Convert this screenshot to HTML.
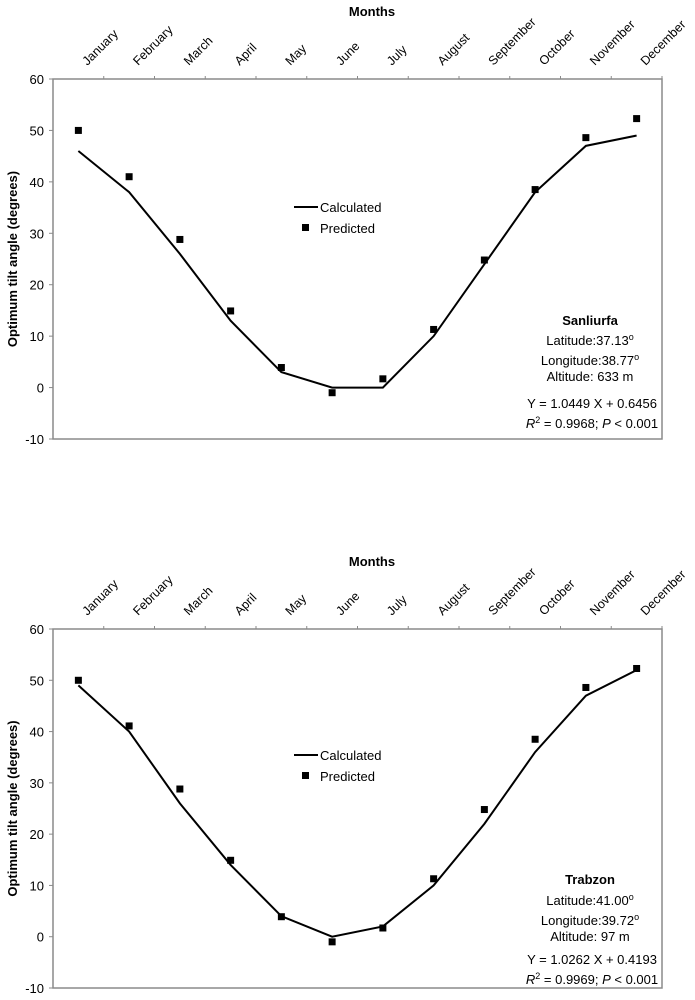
<!DOCTYPE html>
<html><head><meta charset="utf-8"><style>
html,body{margin:0;padding:0;background:#fff;}
svg{display:block;font-family:"Liberation Sans",Arial,sans-serif;}
</style></head><body>
<svg id="c" width="695" height="1000" viewBox="0 0 695 1000"></svg>
<script>
const months=["January","February","March","April","May","June","July","August","September","October","November","December"];
const yTicks=[60,50,40,30,20,10,0,-10];
const calcA=[46,38,26,13,3,0,0,10,24,38,47,49];
const predA=[50,41,28.8,14.9,3.9,-1,1.7,11.3,24.8,38.5,48.6,52.3];
const calcB=[49,40,26,14,4,0,2,10,22,36,47,52];
const predB=[50,41.1,28.8,14.9,3.9,-1,1.7,11.3,24.8,38.5,48.6,52.3];
const infoA=["Sanliurfa","Latitude:37.13","Longitude:38.77","Altitude: 633 m","Y = 1.0449 X + 0.6456","0.9968"];
const infoB=["Trabzon","Latitude:41.00","Longitude:39.72","Altitude: 97 m","Y = 1.0262 X + 0.4193","0.9969"];
const NS="http://www.w3.org/2000/svg";
const svg=document.getElementById('c');
function mk(tag,attrs,parent,text){const e=document.createElementNS(NS,tag);for(const k in attrs)e.setAttribute(k,attrs[k]);if(text!==undefined)e.textContent=text;(parent||svg).appendChild(e);return e;}
function panel(id,top,bottom,calc,pred,info,legY,infoYs){
  const g=mk('g',{});
  
  
  const L=53,R=662;
  const cw=(R-L)/months.length;
  const y=v=>top+(60-v)/70*(bottom-top);
  const x=i=>L+cw*(i+0.5);
  const t=mk('text',{x:372,y:top-63,'font-size':13,'font-weight':'bold','text-anchor':'middle'},g,'Months');
  
  
  const yt=mk('text',{x:0,y:0,'font-size':13,'font-weight':'bold','text-anchor':'middle',transform:`translate(17,${(top+bottom)/2}) rotate(-90)`},g,'Optimum tilt angle (degrees)');
  
  
  const box=mk('rect',{x:L,y:top,width:R-L,height:bottom-top,fill:'none',stroke:'#8a8a8a','stroke-width':1.5},g);
  
  
  yTicks.forEach(v=>{
    mk('line',{x1:L-4,x2:L,y1:y(v),y2:y(v),stroke:'#8a8a8a'},g);
    const tl=mk('text',{x:L-9,y:y(v)+5,'font-size':13,'text-anchor':'end'},g,String(v));
    
    
  });
  months.forEach((m,i)=>{
    mk('line',{x1:L+cw*(i+1),x2:L+cw*(i+1),y1:top-3,y2:top,stroke:'#8a8a8a'},g);
    const lx=x(i)+9,ly=top-13;
    const ml=mk('text',{x:lx,y:ly,'font-size':12.5,transform:`rotate(-45 ${lx} ${ly})`},g,m);
    
    
  });
  const ln=mk('polyline',{points:calc.map((v,i)=>x(i)+','+y(v)).join(' '),fill:'none',stroke:'#000','stroke-width':2},g);
  
  
  pred.forEach((v,i)=>{
    const p=mk('rect',{x:x(i)-3.5,y:y(v)-3.5,width:7,height:7,fill:'#000'},g);
    
    
  });
  const lg=mk('g',{},g);
  
  
  mk('line',{x1:294,x2:318,y1:legY,y2:legY,stroke:'#000','stroke-width':2},lg);
  mk('text',{x:320,y:legY+5,'font-size':13},lg,'Calculated');
  mk('rect',{x:302,y:legY+17,width:7,height:7,fill:'#000'},lg);
  mk('text',{x:320,y:legY+26,'font-size':13},lg,'Predicted');
  const an=mk('g',{'font-size':13,'text-anchor':'middle'},g);
  
  
  mk('text',{x:590,y:infoYs[0],'font-weight':'bold'},an,info[0]);
  for(let k=1;k<=3;k++){const tx=mk('text',{x:590,y:infoYs[k]},an,info[k]);if(k<3)mk('tspan',{dy:-5,'font-size':9},tx,'o');}
  mk('text',{x:592,y:infoYs[4]},an,info[4]);
  const r=mk('text',{x:592,y:infoYs[5]},an);
  mk('tspan',{'font-style':'italic'},r,'R');
  mk('tspan',{dy:-5,'font-size':9},r,'2');
  mk('tspan',{dy:5},r,' = '+info[5]+'; ');
  mk('tspan',{'font-style':'italic'},r,'P');
  mk('tspan',{},r,' < 0.001');
}
panel('sanliurfa',79,439,calcA,predA,infoA,207,[325,345,365,381,408,428]);
panel('trabzon',629,988,calcB,predB,infoB,755,[884,905,925,941,964,984]);
</script>
</body></html>
